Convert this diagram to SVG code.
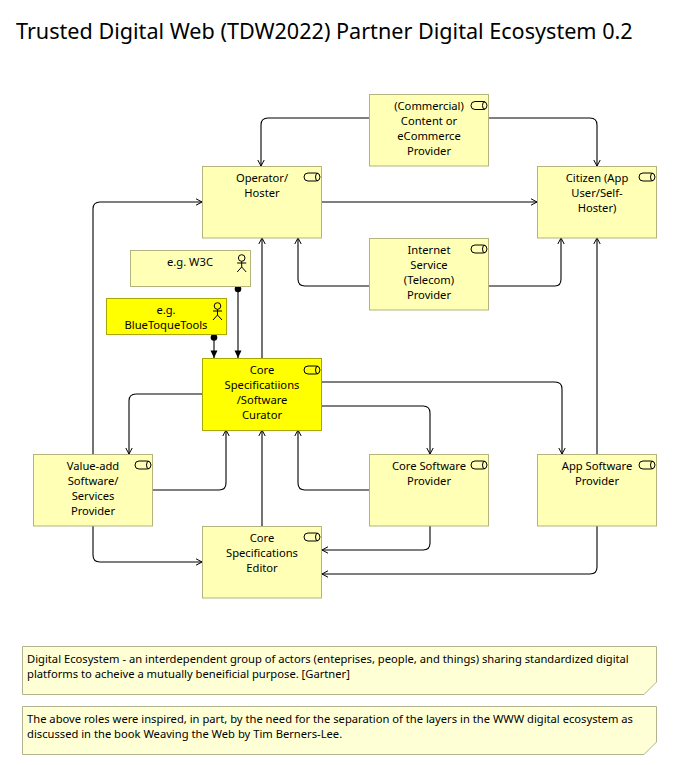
<svg xmlns="http://www.w3.org/2000/svg" width="693" height="765" viewBox="0 0 693 765">
<style>
text{font-family:"Noto Sans","Open Sans","Liberation Sans",sans-serif;font-size:11.2px;fill:#000}
.t{font-size:21.6px}
.m{text-anchor:middle}
.n{fill:#ffffb5;stroke:#b3b37d;stroke-width:1}
.y{fill:#ffff00;stroke:#a8a800;stroke-width:1}
.i{fill:none;stroke:#000;stroke-width:1}
.c path{fill:none;stroke:#000;stroke-width:1.1}
.o{marker-end:url(#open)}
.f{marker-start:url(#dot);marker-end:url(#fill)}
</style>
<defs>
<marker id="open" markerUnits="userSpaceOnUse" viewBox="0 0 10 10" refX="9" refY="5" markerWidth="10" markerHeight="10" orient="auto"><path d="M3 1.800L9 5L3 8.200" fill="none" stroke="#000" stroke-width="1"/></marker>
<marker id="fill" markerUnits="userSpaceOnUse" viewBox="0 0 10 10" refX="9" refY="5" markerWidth="10" markerHeight="10" orient="auto"><path d="M1.500 1.500L9 5L1.500 8.500Z" fill="#000"/></marker>
<marker id="dot" markerUnits="userSpaceOnUse" viewBox="0 0 8 8" refX="4" refY="4" markerWidth="8" markerHeight="8"><circle cx="4" cy="4" r="3.300" fill="#000"/></marker>
<g id="svc"><rect x="-9" y="-4" width="16" height="8" rx="4" class="i"/><path d="M5 -4A2.500 4 0 0 0 5 4" class="i"/></g>
<g id="act"><circle cx="0" cy="-6" r="3.300" class="i"/><path d="M0 -2.700V3M-4.500 -1H4.500M0 3L-4.500 8M0 3L4.500 8" class="i"/></g>
</defs>
<text id="title" class="t" x="16" y="39">Trusted Digital Web (TDW2022) Partner Digital Ecosystem 0.2</text>
<g id="connectors" class="c">
<path class="o" d="M369 118H268Q261 118 261 125V166"/>
<path class="o" d="M489 118H590Q597 118 597 125V166"/>
<path class="o" d="M322 202H537"/>
<path class="o" d="M369 286H305Q298 286 298 279V238"/>
<path class="o" d="M489 286H555Q561 286 561 279V238"/>
<path class="o" d="M262 358V238"/>
<path class="f" d="M238 289V358"/>
<path class="f" d="M214 337.500V358"/>
<path class="o" d="M202 394H136Q129 394 129 401V454"/>
<path class="o" d="M322 406H423Q430 406 430 413V454"/>
<path class="o" d="M322 382H555Q562 382 562 389V454"/>
<path class="o" d="M153 490H219Q226 490 226 483V430"/>
<path class="o" d="M369 490H305Q298 490 298 483V430"/>
<path class="o" d="M262 526V430"/>
<path class="o" d="M93 454V209Q93 202 100 202H202"/>
<path class="o" d="M93 526V555Q93 562 100 562H202"/>
<path class="o" d="M430 526V543Q430 550 423 550H322"/>
<path class="o" d="M597 526V567Q597 574 590 574H322"/>
<path class="o" d="M597 454V238"/>
</g>
<g id="content"><rect class="n" x="369.500" y="94.500" width="119" height="71.500"/><use href="#svc" x="480" y="105.500"/><text class="m" x="429" y="110">(Commercial)</text><text class="m" x="429" y="125">Content or</text><text class="m" x="429" y="140">eCommerce</text><text class="m" x="429" y="155">Provider</text></g>
<g id="operator"><rect class="n" x="202.500" y="166.500" width="119" height="71.500"/><use href="#svc" x="313" y="177"/><text class="m" x="262" y="182">Operator/</text><text class="m" x="262" y="197">Hoster</text></g>
<g id="citizen"><rect class="n" x="537.500" y="166.500" width="119" height="71.500"/><use href="#svc" x="648" y="177"/><text class="m" x="597" y="182">Citizen (App</text><text class="m" x="597" y="197">User/Self-</text><text class="m" x="597" y="212">Hoster)</text></g>
<g id="isp"><rect class="n" x="369.500" y="238.500" width="119" height="71.500"/><use href="#svc" x="480" y="249"/><text class="m" x="429" y="254">Internet</text><text class="m" x="429" y="269">Service</text><text class="m" x="429" y="284">(Telecom)</text><text class="m" x="429" y="299">Provider</text></g>
<g id="w3c"><rect class="n" x="130.500" y="250.500" width="120" height="36"/><use href="#act" x="241.700" y="264"/><text class="m" x="190" y="266">e.g. W3C</text></g>
<g id="bluetoque"><rect class="y" x="106.500" y="298.500" width="120" height="36"/><use href="#act" x="217.500" y="312"/><text class="m" x="166" y="314">e.g.</text><text class="m" x="166" y="329">BlueToqueTools</text></g>
<g id="curator"><rect class="y" x="202.500" y="358.500" width="119" height="72"/><use href="#svc" x="313" y="370"/><text class="m" x="262" y="374">Core</text><text class="m" x="262" y="389">Specificatiions</text><text class="m" x="262" y="404">/Software</text><text class="m" x="262" y="419">Curator</text></g>
<g id="valueadd"><rect class="n" x="33.500" y="454.500" width="119" height="71.500"/><use href="#svc" x="144" y="465"/><text class="m" x="93" y="470">Value-add</text><text class="m" x="93" y="485">Software/</text><text class="m" x="93" y="500">Services</text><text class="m" x="93" y="515">Provider</text></g>
<g id="coresw"><rect class="n" x="369.500" y="454.500" width="119" height="71.500"/><use href="#svc" x="480" y="465"/><text class="m" x="429" y="470">Core Software</text><text class="m" x="429" y="485">Provider</text></g>
<g id="appsw"><rect class="n" x="537.500" y="454.500" width="119" height="71.500"/><use href="#svc" x="648" y="465"/><text class="m" x="597" y="470">App Software</text><text class="m" x="597" y="485">Provider</text></g>
<g id="editor"><rect class="n" x="202.500" y="526.500" width="119" height="71.500"/><use href="#svc" x="313" y="537"/><text class="m" x="262" y="542">Core</text><text class="m" x="262" y="557">Specifications</text><text class="m" x="262" y="572">Editor</text></g>
<g id="note1"><path d="M22.500 646.500H656.500V682L644 694.500H22.500Z" fill="#ffffd5" stroke="#b3b38f"/><text x="27" y="663">Digital Ecosystem - an interdependent group of actors (enteprises, people, and things) sharing standardized digital</text><text x="27" y="678">platforms to acheive a mutually beneificial purpose. [Gartner]</text></g>
<g id="note2"><path d="M22.500 706.500H656.500V742L644 754.500H22.500Z" fill="#ffffd5" stroke="#b3b38f"/><text x="27" y="723">The above roles were inspired, in part, by the need for the separation of the layers in the WWW digital ecosystem as</text><text x="27" y="738">discussed in the book Weaving the Web by Tim Berners-Lee.</text></g>
</svg>
